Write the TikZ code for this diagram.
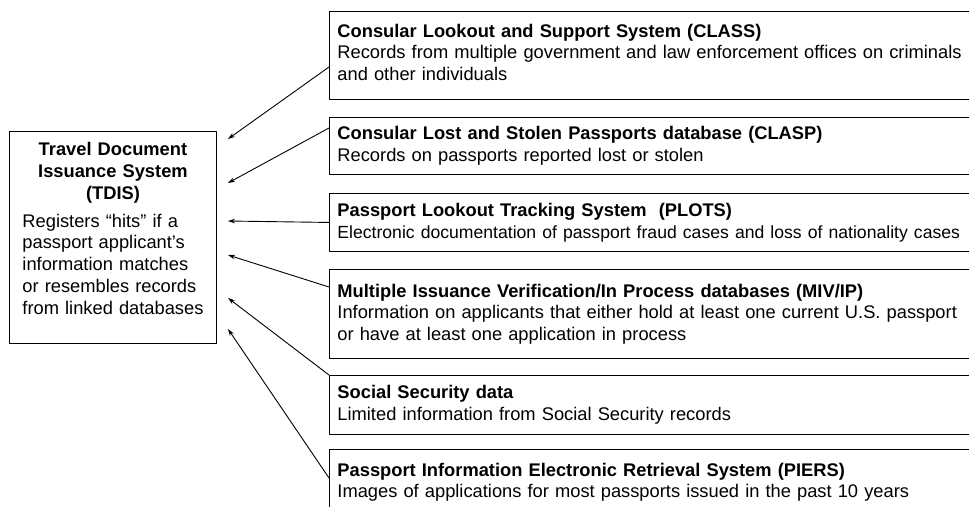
\documentclass[tikz,border=0pt]{standalone}
\usepackage{fontspec}
\setmainfont{Liberation Sans}
\usetikzlibrary{arrows.meta,calc,positioning}

\begin{document}
\begin{tikzpicture}[x=1pt, y=-1pt, >={Stealth[length=7pt,width=4.5pt]}, line cap=round, line join=round,
		dbbox/.style={draw, line width=0.9pt, anchor=north west, align=left, text width=660pt,
			inner xsep=8pt, inner ysep=0pt, font=\fontsize{18.3}{21.5}\selectfont},
		feed/.style={->, line width=0.9pt}]
		
		\useasboundingbox (0,0) rectangle (969,506);
		\begin{scope}
			\clip (0,0) rectangle (969,506);
			
			% central system (left)
			\node[draw, line width=0.9pt, anchor=north west, minimum height=212pt, text width=181pt,
				inner xsep=13pt, inner ysep=0pt, align=left, font=\fontsize{18.3}{21.8}\selectfont] (tdis) at (9,131)
				{{\centering\bfseries Travel Document\\Issuance System\\(TDIS)\par}\vspace{6pt}%
					Registers “hits” if a\\passport applicant’s\\information matches\\or resembles records\\from~linked~databases\par\vspace{18pt}\hrule height 0pt};
			
			% linked databases (right)
			\node[dbbox, minimum height=88pt] (class) at (329,11)
				{\textbf{Consular Lookout and Support System (CLASS)}\\
					Records from multiple government and law enforcement offices on criminals\\
					and other individuals\par\vspace{6pt}\hrule height 0pt};
			\node[dbbox, minimum height=57pt] (clasp) at (329,117)
				{\textbf{Consular Lost and Stolen Passports database (CLASP)}\\
					Records on passports reported lost or stolen};
			\node[dbbox, minimum height=58pt] (plots) at (329,193)
				{\textbf{Passport Lookout Tracking System~~(PLOTS)}\\
					{\fontsize{17.6}{21.5}\selectfont Electronic documentation of passport fraud cases and loss of nationality cases}};
			\node[dbbox, minimum height=89pt] (miv) at (329,269)
				{\textbf{Multiple Issuance Verification/In Process databases (MIV/IP)}\\
					Information on applicants that either hold at least one current U.S. passport\\
					or have at least one application in process};
			\node[dbbox, minimum height=59pt] (ssa) at (329,375)
				{\textbf{Social Security data}\\
					Limited information from Social Security records};
			\node[dbbox, minimum height=66pt] (piers) at (329,449)
				{\textbf{Passport Information Electronic Retrieval System (PIERS)}\\
					Images of applications for most passports issued in the past 10 years};
			
			% arrow tips beside the TDIS box
			\coordinate (in1) at (228,139);
			\coordinate (in2) at (228,183);
			\coordinate (in3) at (228,221);
			\coordinate (in4) at (228,255);
			\coordinate (in5) at (228,298);
			\coordinate (in6) at (228,329);
			
			% feeds into TDIS
			\draw[feed] ([yshift=-56pt]class.north west) -- (in1);
			\draw[feed] ([yshift=-11pt]clasp.north west) -- (in2);
			\draw[feed] (plots.west) -- (in3);
			\draw[feed] ([yshift=-18pt]miv.north west) -- (in4);
			\draw[feed] (ssa.north west) -- (in5);
			\draw[feed] ([yshift=-29pt]piers.north west) -- (in6);
		\end{scope}
		
	\end{tikzpicture}
\end{document}
